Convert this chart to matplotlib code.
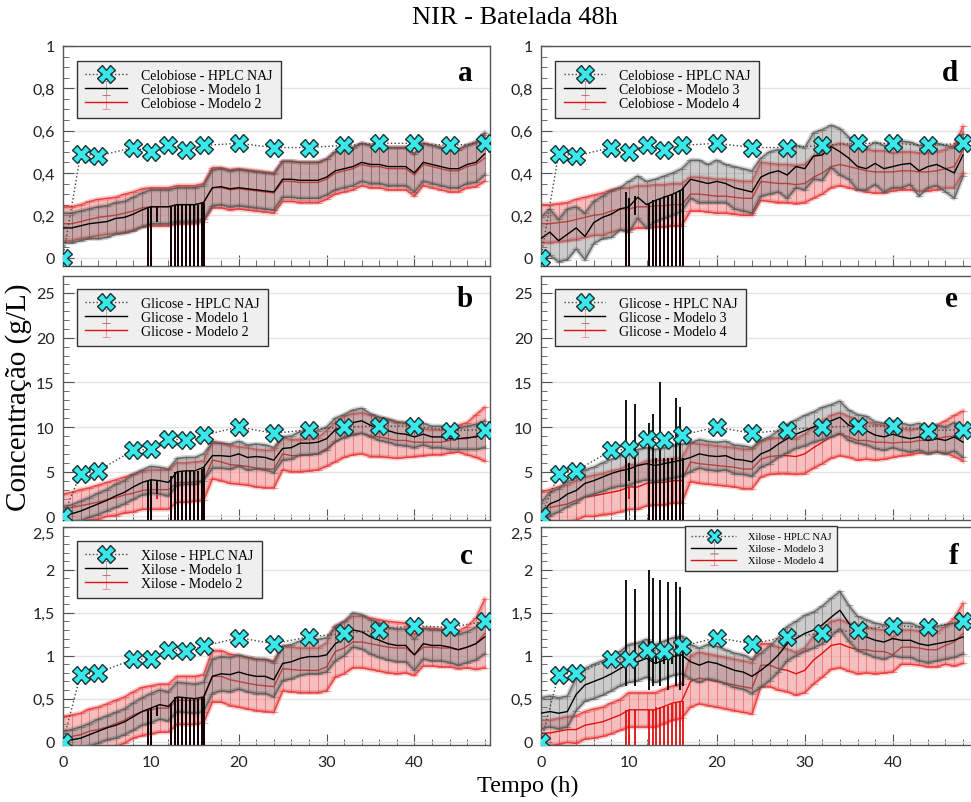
import numpy as np
import matplotlib
matplotlib.use("Agg")
import matplotlib.pyplot as plt
from matplotlib.ticker import MultipleLocator, FuncFormatter

# NIR sampling times (h) and HPLC sampling times (h)
t_nir = np.arange(49)
hplc_t = [0, 2, 4, 8, 10, 12, 14, 16, 20, 24, 28, 32, 36, 40, 44, 48]
spk_t = [9.7, 10.0, 10.7, 12.3, 12.7, 13.1, 13.5, 14.0, 14.5, 14.9, 15.4, 15.8, 16.1]

# HPLC reference values (g/L)
cel_hplc = [0, 0.49, 0.48, 0.52, 0.50, 0.53, 0.51, 0.53, 0.54, 0.52, 0.52, 0.53, 0.54, 0.54, 0.53, 0.54]
glc_hplc = [0, 4.8, 5.1, 7.4, 7.5, 8.7, 8.5, 9.1, 10.0, 9.3, 9.7, 10.0, 10.1, 10.1, 9.6, 9.7]
xyl_hplc = [0, 0.78, 0.80, 0.96, 0.96, 1.07, 1.05, 1.11, 1.21, 1.14, 1.22, 1.26, 1.30, 1.35, 1.33, 1.40]

# Celobiose - modelos 1 e 2
a1 = [0.14, 0.14, 0.15, 0.16, 0.165, 0.17, 0.185, 0.19, 0.205, 0.225,
      0.24, 0.24, 0.24, 0.25, 0.25, 0.25, 0.26, 0.33, 0.335, 0.325,
      0.33, 0.325, 0.32, 0.315, 0.31, 0.37, 0.37, 0.365, 0.365, 0.365,
      0.38, 0.41, 0.42, 0.43, 0.45, 0.44, 0.44, 0.43, 0.43, 0.43,
      0.40, 0.45, 0.44, 0.43, 0.42, 0.42, 0.44, 0.45, 0.49]
a2 = [0.16, 0.16, 0.17, 0.18, 0.19, 0.195, 0.20, 0.21, 0.22, 0.235,
      0.24, 0.24, 0.24, 0.25, 0.25, 0.25, 0.26, 0.33, 0.33, 0.32,
      0.325, 0.32, 0.315, 0.31, 0.305, 0.36, 0.36, 0.355, 0.355, 0.355,
      0.37, 0.40, 0.41, 0.42, 0.44, 0.43, 0.43, 0.42, 0.42, 0.42,
      0.39, 0.44, 0.43, 0.42, 0.41, 0.41, 0.43, 0.44, 0.47]
a1_err = [0.07, 0.07, 0.07, 0.07, 0.075, 0.075, 0.075, 0.075, 0.08, 0.08,
          0.08, 0.08, 0.08, 0.08, 0.08, 0.08, 0.08, 0.085, 0.085, 0.085,
          0.085, 0.085, 0.085, 0.085, 0.085, 0.085, 0.085, 0.085, 0.085, 0.085,
          0.085, 0.09, 0.09, 0.09, 0.09, 0.09, 0.09, 0.09, 0.09, 0.09,
          0.09, 0.09, 0.09, 0.09, 0.09, 0.09, 0.09, 0.095, 0.1]
a2_err = [0.08, 0.08, 0.08, 0.085, 0.085, 0.085, 0.085, 0.09, 0.09, 0.09,
          0.09, 0.09, 0.09, 0.09, 0.09, 0.09, 0.09, 0.095, 0.095, 0.095,
          0.095, 0.095, 0.095, 0.095, 0.095, 0.095, 0.095, 0.095, 0.095, 0.095,
          0.095, 0.1, 0.1, 0.1, 0.1, 0.1, 0.1, 0.1, 0.1, 0.1,
          0.1, 0.1, 0.1, 0.1, 0.1, 0.1, 0.1, 0.105, 0.11]
a1_spk_lo = [-0.1, -0.1, 0.17, -0.1, -0.1, -0.1, -0.1, -0.1, -0.1, -0.1, -0.1, -0.1, -0.1]
a1_spk_hi = [0.24, 0.24, 0.24, 0.24, 0.25, 0.25, 0.25, 0.25, 0.25, 0.25, 0.25, 0.26, 0.26]
a2_spk_lo = [-0.1, -0.1, 0.2, -0.1, -0.1, -0.1, -0.1, -0.1, -0.1, -0.1, -0.1, -0.1, -0.1]
a2_spk_hi = [0.24, 0.24, 0.24, 0.24, 0.25, 0.25, 0.25, 0.25, 0.25, 0.25, 0.25, 0.26, 0.26]

# Glicose - modelos 1 e 2
b1 = [0.1, 0.3, 0.6, 1.0, 1.4, 1.8, 2.3, 2.7, 3.3, 3.8,
      4.1, 4.0, 3.8, 5.0, 5.1, 5.1, 5.5, 6.8, 6.8, 6.7,
      7.0, 6.6, 6.7, 6.6, 6.3, 7.6, 7.7, 8.2, 8.2, 8.3,
      8.7, 9.7, 10.1, 10.5, 10.7, 10.2, 9.8, 9.6, 9.3, 9.2,
      8.9, 9.2, 8.9, 8.9, 8.7, 8.7, 8.8, 8.9, 9.2]
b2 = [0.8, 1.0, 1.2, 1.4, 1.6, 1.9, 2.1, 2.4, 2.6, 2.9,
      3.0, 3.0, 3.0, 3.8, 3.8, 3.9, 4.0, 6.3, 6.1, 5.8,
      5.7, 5.6, 5.4, 5.3, 5.3, 7.0, 6.8, 6.8, 6.9, 7.0,
      7.6, 8.3, 8.9, 9.2, 9.3, 9.0, 8.9, 8.7, 8.5, 8.5,
      8.3, 8.3, 8.3, 8.3, 8.5, 8.7, 8.7, 9.0, 9.2]
b1_err = [1.0, 1.0, 1.1, 1.1, 1.2, 1.2, 1.3, 1.3, 1.4, 1.4,
          1.5, 1.5, 1.5, 1.5, 1.5, 1.5, 1.5, 1.4, 1.4, 1.4,
          1.4, 1.4, 1.4, 1.4, 1.4, 1.3, 1.3, 1.3, 1.3, 1.3,
          1.3, 1.3, 1.3, 1.4, 1.4, 1.3, 1.3, 1.3, 1.3, 1.3,
          1.2, 1.2, 1.2, 1.2, 1.2, 1.2, 1.3, 1.4, 1.5]
b2_err = [1.7, 1.7, 1.8, 1.8, 1.9, 1.9, 2.0, 2.0, 2.1, 2.1,
          2.2, 2.2, 2.2, 2.2, 2.2, 2.2, 2.2, 2.1, 2.1, 2.1,
          2.1, 2.1, 2.1, 2.1, 2.1, 1.8, 1.8, 1.8, 1.8, 1.8,
          2.0, 2.2, 2.3, 2.3, 2.3, 2.3, 2.2, 2.1, 2.0, 1.9,
          1.6, 1.5, 1.4, 1.4, 1.4, 1.5, 1.8, 2.4, 3.0]
b1_spk_lo = [-1, -1, 2.5, -1, -1, -1, -1, -1, -1, -1, -1, -1, -1]
b1_spk_hi = [4.0, 4.1, 4.0, 4.5, 5.0, 5.0, 5.0, 5.1, 5.1, 5.1, 5.1, 5.3, 5.5]
b2_spk_lo = [-1, -1, 2.0, -1, -1, -1, -1, -1, -1, -1, -1, -1, -1]
b2_spk_hi = [3.0, 3.0, 3.0, 3.5, 3.8, 3.8, 3.8, 3.8, 3.8, 3.9, 3.9, 4.0, 4.0]

# Xilose - modelos 1 e 2
c1 = [0.0, 0.02, 0.04, 0.08, 0.12, 0.16, 0.19, 0.23, 0.29, 0.35,
      0.39, 0.43, 0.41, 0.52, 0.51, 0.50, 0.52, 0.76, 0.79, 0.78,
      0.81, 0.78, 0.76, 0.76, 0.72, 0.91, 0.93, 0.97, 0.99, 0.99,
      1.01, 1.14, 1.20, 1.30, 1.28, 1.22, 1.18, 1.14, 1.12, 1.12,
      1.01, 1.14, 1.12, 1.12, 1.10, 1.07, 1.10, 1.14, 1.22]
c2 = [0.04, 0.06, 0.08, 0.12, 0.14, 0.17, 0.21, 0.25, 0.31, 0.35,
      0.37, 0.39, 0.39, 0.48, 0.48, 0.48, 0.50, 0.76, 0.76, 0.72,
      0.70, 0.68, 0.66, 0.65, 0.64, 0.85, 0.84, 0.83, 0.83, 0.83,
      0.87, 1.05, 1.09, 1.16, 1.16, 1.14, 1.12, 1.10, 1.09, 1.09,
      1.01, 1.10, 1.10, 1.09, 1.09, 1.07, 1.10, 1.14, 1.26]
c1_err = [0.12, 0.12, 0.13, 0.13, 0.14, 0.14, 0.15, 0.15, 0.16, 0.16,
          0.17, 0.17, 0.17, 0.17, 0.17, 0.17, 0.17, 0.2, 0.2, 0.2,
          0.2, 0.2, 0.2, 0.2, 0.2, 0.2, 0.2, 0.2, 0.2, 0.2,
          0.2, 0.2, 0.2, 0.2, 0.2, 0.2, 0.2, 0.19, 0.19, 0.19,
          0.18, 0.18, 0.18, 0.18, 0.18, 0.18, 0.18, 0.19, 0.2]
c2_err = [0.25, 0.25, 0.25, 0.26, 0.26, 0.27, 0.27, 0.27, 0.27, 0.28,
          0.28, 0.28, 0.28, 0.28, 0.28, 0.28, 0.28, 0.3, 0.3, 0.3,
          0.3, 0.3, 0.3, 0.3, 0.3, 0.26, 0.26, 0.26, 0.26, 0.26,
          0.28, 0.3, 0.3, 0.3, 0.3, 0.3, 0.3, 0.3, 0.3, 0.29,
          0.24, 0.22, 0.22, 0.22, 0.22, 0.22, 0.24, 0.3, 0.4]
c1_spk_lo = [-0.1, -0.1, 0.3, -0.1, -0.1, -0.1, -0.1, -0.1, -0.1, -0.1, -0.1, -0.1, -0.1]
c1_spk_hi = [0.37, 0.39, 0.43, 0.45, 0.52, 0.51, 0.51, 0.51, 0.50, 0.50, 0.50, 0.52, 0.52]
c2_spk_lo = [-0.1, -0.1, 0.3, -0.1, -0.1, -0.1, -0.1, -0.1, -0.1, -0.1, -0.1, -0.1, -0.1]
c2_spk_hi = [0.36, 0.37, 0.39, 0.42, 0.48, 0.48, 0.48, 0.48, 0.48, 0.48, 0.48, 0.50, 0.50]

# Celobiose - modelos 3 e 4
d3 = [0.09, 0.12, 0.08, 0.11, 0.14, 0.10, 0.165, 0.19, 0.205, 0.23,
      0.24, 0.285, 0.25, 0.27, 0.285, 0.30, 0.32, 0.37, 0.36, 0.35,
      0.36, 0.35, 0.33, 0.32, 0.31, 0.38, 0.40, 0.41, 0.39, 0.43,
      0.42, 0.48, 0.485, 0.525, 0.50, 0.47, 0.43, 0.42, 0.445, 0.42,
      0.43, 0.44, 0.445, 0.41, 0.43, 0.44, 0.42, 0.40, 0.485]
d4 = [0.16, 0.16, 0.165, 0.17, 0.18, 0.19, 0.20, 0.205, 0.22, 0.23,
      0.23, 0.24, 0.24, 0.245, 0.245, 0.25, 0.25, 0.30, 0.30, 0.295,
      0.29, 0.29, 0.285, 0.28, 0.28, 0.36, 0.355, 0.35, 0.35, 0.345,
      0.35, 0.38, 0.40, 0.43, 0.44, 0.43, 0.42, 0.41, 0.405, 0.405,
      0.405, 0.41, 0.41, 0.405, 0.405, 0.41, 0.42, 0.43, 0.51]
d3_err = [0.1, 0.11, 0.1, 0.12, 0.1, 0.11, 0.1, 0.1, 0.11, 0.1,
          0.12, 0.1, 0.11, 0.1, 0.1, 0.1, 0.1, 0.09, 0.1, 0.09,
          0.1, 0.09, 0.1, 0.1, 0.1, 0.09, 0.1, 0.1, 0.11, 0.1,
          0.1, 0.11, 0.12, 0.1, 0.11, 0.1, 0.11, 0.1, 0.1, 0.11,
          0.1, 0.11, 0.1, 0.12, 0.1, 0.1, 0.11, 0.12, 0.1]
d4_err = [0.09, 0.09, 0.09, 0.09, 0.095, 0.095, 0.095, 0.1, 0.1, 0.1,
          0.1, 0.1, 0.1, 0.1, 0.1, 0.1, 0.1, 0.08, 0.08, 0.08,
          0.08, 0.08, 0.08, 0.08, 0.08, 0.09, 0.09, 0.09, 0.09, 0.09,
          0.09, 0.1, 0.1, 0.1, 0.1, 0.1, 0.1, 0.1, 0.1, 0.1,
          0.09, 0.09, 0.09, 0.09, 0.09, 0.09, 0.09, 0.1, 0.11]
d3_spk_lo = [-0.1, -0.1, 0.2, -0.1, -0.1, -0.1, -0.1, -0.1, -0.1, -0.1, -0.1, -0.1, -0.1]
d3_spk_hi = [0.31, 0.28, 0.29, 0.26, 0.27, 0.27, 0.28, 0.29, 0.29, 0.30, 0.31, 0.32, 0.33]
d4_spk_lo = [-0.1, -0.1, 0.2, -0.1, -0.1, -0.1, -0.1, -0.1, -0.1, -0.1, -0.1, -0.1, -0.1]
d4_spk_hi = [0.23, 0.23, 0.24, 0.24, 0.245, 0.245, 0.245, 0.245, 0.25, 0.25, 0.25, 0.25, 0.25]

# Glicose - modelos 3 e 4
e3 = [0.3, 1.4, 1.8, 2.5, 2.9, 3.7, 4.0, 4.4, 4.8, 5.1,
      5.3, 5.7, 5.9, 5.7, 5.9, 6.1, 6.3, 6.6, 7.0, 6.8,
      6.7, 6.8, 6.4, 6.3, 6.1, 7.0, 7.4, 8.1, 8.7, 9.2,
      9.6, 10.0, 10.4, 10.7, 11.1, 10.2, 9.8, 9.6, 9.1, 8.9,
      9.2, 8.9, 8.7, 8.9, 8.5, 8.7, 8.5, 8.9, 8.3]
e4 = [0.7, 1.0, 1.2, 1.4, 1.8, 2.2, 2.3, 2.5, 2.7, 2.9,
      3.3, 3.3, 3.7, 3.8, 3.8, 4.0, 4.0, 6.1, 5.9, 5.8,
      5.7, 5.6, 5.5, 5.3, 5.3, 6.4, 6.7, 6.8, 6.8, 6.7,
      7.0, 7.7, 8.3, 8.9, 9.2, 8.9, 8.5, 8.5, 8.3, 8.3,
      8.2, 8.3, 8.3, 8.5, 8.5, 8.7, 8.9, 9.0, 9.0]
e3_err = [1.2, 1.3, 1.3, 1.4, 1.4, 1.5, 1.5, 1.6, 1.6, 1.7,
          1.8, 1.8, 1.8, 1.8, 1.8, 1.8, 1.8, 1.6, 1.6, 1.6,
          1.6, 1.6, 1.6, 1.6, 1.6, 1.5, 1.5, 1.5, 1.6, 1.6,
          1.7, 1.7, 1.8, 1.8, 1.8, 1.7, 1.6, 1.6, 1.5, 1.5,
          1.5, 1.5, 1.5, 1.5, 1.5, 1.5, 1.5, 1.6, 1.7]
e4_err = [2.0, 2.0, 2.1, 2.1, 2.2, 2.2, 2.3, 2.3, 2.4, 2.4,
          2.5, 2.5, 2.5, 2.5, 2.5, 2.5, 2.5, 2.2, 2.2, 2.2,
          2.2, 2.2, 2.2, 2.2, 2.2, 2.0, 2.0, 2.0, 2.0, 2.0,
          2.2, 2.3, 2.4, 2.4, 2.4, 2.3, 2.2, 2.1, 2.0, 1.9,
          1.6, 1.5, 1.4, 1.4, 1.4, 1.5, 1.8, 2.3, 2.8]
e3_spk_lo = [-1, 4.0, -1, -1, -1, -1, -1, -1, -1, -1, -1, -1, -1]
e3_spk_hi = [13.0, 6.0, 12.6, 10.5, 11.5, 6.5, 15.0, 6.5, 6.5, 6.5, 13.3, 12.2, 6.5]
e4_spk_lo = [2.0, 2.0, 2.0, -1, -1, -1, -1, -1, -1, -1, -1, -1, -1]
e4_spk_hi = [3.0, 3.3, 3.5, 3.6, 3.7, 3.8, 3.8, 3.8, 3.9, 3.9, 4.0, 4.0, 4.0]

# Xilose - modelos 3 e 4
f3 = [0.33, 0.35, 0.33, 0.35, 0.55, 0.66, 0.70, 0.74, 0.79, 0.85,
      0.91, 0.93, 0.97, 0.91, 0.95, 0.99, 1.01, 0.93, 0.89, 0.93,
      0.91, 0.87, 0.83, 0.81, 0.76, 0.83, 0.91, 1.01, 1.14, 1.20,
      1.26, 1.30, 1.36, 1.45, 1.53, 1.38, 1.26, 1.22, 1.18, 1.16,
      1.20, 1.18, 1.18, 1.14, 1.12, 1.14, 1.16, 1.18, 1.22]
f4 = [0.10, 0.10, 0.12, 0.14, 0.14, 0.19, 0.21, 0.23, 0.27, 0.31,
      0.37, 0.37, 0.37, 0.37, 0.41, 0.45, 0.47, 0.70, 0.74, 0.72,
      0.70, 0.68, 0.66, 0.64, 0.62, 0.89, 0.89, 0.85, 0.83, 0.79,
      0.83, 0.95, 1.03, 1.12, 1.14, 1.10, 1.07, 1.07, 1.05, 1.05,
      1.01, 1.10, 1.10, 1.09, 1.07, 1.07, 1.12, 1.16, 1.26]
f3_err = [0.18, 0.18, 0.18, 0.18, 0.19, 0.19, 0.2, 0.2, 0.2, 0.2,
          0.22, 0.22, 0.22, 0.22, 0.22, 0.22, 0.22, 0.2, 0.2, 0.2,
          0.2, 0.2, 0.2, 0.2, 0.2, 0.2, 0.2, 0.2, 0.2, 0.2,
          0.21, 0.21, 0.22, 0.22, 0.22, 0.21, 0.2, 0.2, 0.2, 0.2,
          0.2, 0.2, 0.2, 0.2, 0.2, 0.2, 0.2, 0.2, 0.2]
f4_err = [0.15, 0.15, 0.15, 0.15, 0.16, 0.16, 0.17, 0.17, 0.18, 0.18,
          0.2, 0.2, 0.2, 0.2, 0.2, 0.2, 0.2, 0.3, 0.3, 0.3,
          0.3, 0.3, 0.3, 0.3, 0.3, 0.25, 0.25, 0.25, 0.25, 0.25,
          0.26, 0.28, 0.28, 0.28, 0.28, 0.28, 0.28, 0.27, 0.26, 0.25,
          0.2, 0.2, 0.2, 0.2, 0.2, 0.2, 0.22, 0.28, 0.35]
f3_spk_lo = [0.65, 0.9, 0.65, 0.6, 0.65, 0.9, 0.65, 0.9, 0.6, 0.9, 0.65, 0.6, 0.65]
f3_spk_hi = [1.88, 0.95, 1.78, 2.0, 1.9, 1.0, 1.88, 1.0, 1.86, 1.0, 1.86, 1.8, 1.1]
f4_spk_lo = [-0.1, -0.1, -0.1, -0.1, -0.1, -0.1, -0.1, -0.1, -0.1, -0.1, -0.1, -0.1, -0.1]
f4_spk_hi = [0.37, 0.37, 0.37, 0.37, 0.37, 0.4, 0.4, 0.41, 0.42, 0.44, 0.45, 0.46, 0.47]

SERIF = "Liberation Serif"
SANS = "Lato"

fig = plt.figure(figsize=(9.71, 8.03), dpi=100)

W, H = 971, 803
rows = [(47, 267), (277, 521), (528, 746)]   # px top/bottom
cols = [(63, 490, 48.6), (541, 978, 49.7)]   # px left/right, xmax

panels = [
    dict(col=0, row=0, letter="a", hplc=cel_hplc, name="Celobiose", ma="Modelo 1", mb="Modelo 2",
         ya=a1, ea=a1_err, yb=a2, eb=a2_err, sa=(a1_spk_lo, a1_spk_hi), sb=(a2_spk_lo, a2_spk_hi)),
    dict(col=0, row=1, letter="b", hplc=glc_hplc, name="Glicose", ma="Modelo 1", mb="Modelo 2",
         ya=b1, ea=b1_err, yb=b2, eb=b2_err, sa=(b1_spk_lo, b1_spk_hi), sb=(b2_spk_lo, b2_spk_hi)),
    dict(col=0, row=2, letter="c", hplc=xyl_hplc, name="Xilose", ma="Modelo 1", mb="Modelo 2",
         ya=c1, ea=c1_err, yb=c2, eb=c2_err, sa=(c1_spk_lo, c1_spk_hi), sb=(c2_spk_lo, c2_spk_hi)),
    dict(col=1, row=0, letter="d", hplc=cel_hplc, name="Celobiose", ma="Modelo 3", mb="Modelo 4",
         ya=d3, ea=d3_err, yb=d4, eb=d4_err, sa=(d3_spk_lo, d3_spk_hi), sb=(d4_spk_lo, d4_spk_hi)),
    dict(col=1, row=1, letter="e", hplc=glc_hplc, name="Glicose", ma="Modelo 3", mb="Modelo 4",
         ya=e3, ea=e3_err, yb=e4, eb=e4_err, sa=(e3_spk_lo, e3_spk_hi), sb=(e4_spk_lo, e4_spk_hi)),
    dict(col=1, row=2, letter="f", hplc=xyl_hplc, name="Xilose", ma="Modelo 3", mb="Modelo 4",
         ya=f3, ea=f3_err, yb=f4, eb=f4_err, sa=(f3_spk_lo, f3_spk_hi), sb=(f4_spk_lo, f4_spk_hi)),
]

ylims = [(-0.04, 1.0), (-0.4, 26.9), (-0.04, 2.5)]
ymaj = [0.2, 5, 0.5]
ymin = [0.05, 1, 0.1]
letter_y = [0.88, 0.906, 0.87]
leg_top = [0.932, 0.947, 0.936]

comma = FuncFormatter(lambda v, p: f"{v:g}".replace(".", ","))


def draw_model(ax, y, err, spk, line_c, bar_c, fill_c, fill_a, label, z):
    y = np.asarray(y)
    err = np.asarray(err)
    ax.fill_between(t_nir, y - err, y + err, color=fill_c, alpha=fill_a, lw=0, zorder=z)
    for s in (1, -1):
        ax.plot(t_nir, y + s * err, color=bar_c, lw=3.5, alpha=0.25, zorder=z + 0.1)
        ax.plot(t_nir, y + s * err, color=bar_c, lw=1.1, alpha=0.8, zorder=z + 0.1)
    ax.vlines(spk_t, spk[0], spk[1], color=line_c, lw=1.3, zorder=z + 0.3)
    h = ax.errorbar(t_nir, y, yerr=err, fmt="-", color=line_c, lw=1.0,
                    ecolor=matplotlib.colors.to_rgba(bar_c, 0.45), elinewidth=0.7,
                    capsize=3, capthick=0.7, label=label, zorder=z + 0.2)
    return h


axes_c = []
for p in panels:
    (px0, px1, xmax) = cols[p["col"]]
    (py0, py1) = rows[p["row"]]
    ax = fig.add_axes([px0 / W, 1 - py1 / H, (px1 - px0) / W, (py1 - py0) / H])
    r = p["row"]
    if r == 2:
        axes_c.append(ax)

    hb = draw_model(ax, p["yb"], p["eb"], p["sb"], "#e01010", "#e83030", "#f09090", 0.58,
                    f"{p['name']} - {p['mb']}", 2)
    ha = draw_model(ax, p["ya"], p["ea"], p["sa"], "#000000", "#555555", "#858585", 0.42,
                    f"{p['name']} - {p['ma']}", 3)
    hh, = ax.plot(hplc_t, p["hplc"], ls=":", color="#444444", lw=1.0, marker="X", ms=12.5,
                  mfc="#38e8ea", mec="#1a3535", mew=1.0, zorder=6,
                  label=f"{p['name']} - HPLC NAJ")

    ax.set_xlim(0, xmax)
    ax.set_ylim(*ylims[r])
    ax.xaxis.set_major_locator(MultipleLocator(10))
    ax.xaxis.set_minor_locator(MultipleLocator(2))
    ax.yaxis.set_major_locator(MultipleLocator(ymaj[r]))
    ax.yaxis.set_minor_locator(MultipleLocator(ymin[r]))
    ax.yaxis.set_major_formatter(comma)
    ax.yaxis.grid(True, color="#e4e4e4", lw=1)
    ax.set_axisbelow(True)
    ax.tick_params(which="both", direction="in", top=False, right=False, color="#555555",
                   labelsize=11.5, labelcolor="#222222")
    ax.tick_params(axis="y", pad=6)
    ax.tick_params(axis="x", pad=7)
    ax.tick_params(which="major", length=8)
    ax.tick_params(which="minor", length=4)
    for lab in ax.get_xticklabels() + ax.get_yticklabels():
        lab.set_family(SANS)
    if r < 2:
        ax.tick_params(labelbottom=False)
    for sp in ax.spines.values():
        sp.set_color("#555555")
        sp.set_linewidth(1.0)

    lx = 0.96 if p["col"] == 0 else 0.955
    ax.text(lx, letter_y[r], p["letter"], transform=ax.transAxes, ha="right", va="center",
            fontsize=21, fontweight="bold", family=SERIF, zorder=10)

    if p["letter"] == "f":
        leg = ax.legend(handles=[hh, ha, hb], loc="upper left", bbox_to_anchor=(0.33, 1.005),
                        borderaxespad=0, prop=dict(family=SERIF, size=7.5), handlelength=4.3,
                        labelspacing=0.25, markerscale=0.75, borderpad=0.6, handletextpad=1.1)
    else:
        leg = ax.legend(handles=[hh, ha, hb], loc="upper left",
                        bbox_to_anchor=(0.033, leg_top[r]),
                        borderaxespad=0, prop=dict(family=SERIF, size=10), handlelength=3.0,
                        labelspacing=0.05, markerscale=1.0, borderpad=0.6, handletextpad=1.0)
    fr = leg.get_frame()
    fr.set_facecolor("#efefef")
    fr.set_edgecolor("#333333")
    fr.set_alpha(1)
    fr.set_boxstyle("square", pad=0)
    leg.set_zorder(8)

fig.text(0.53, 0.978, "NIR - Batelada 48h", ha="center", va="center", fontsize=19, family=SERIF)
fig.text(0.019, 0.505, "Concentração (g/L)", ha="center", va="center", rotation=90,
         fontsize=21, family=SERIF)
fig.text(0.543, 0.021, "Tempo (h)", ha="center", va="center", fontsize=17.5, family=SERIF)

# the top tick label of the bottom row sits inside the frame, as in the reference
fig.canvas.draw()
for ax in axes_c:
    for tk in ax.yaxis.get_major_ticks():
        if abs(tk.get_loc() - 2.5) < 1e-6:
            tk.label1.set_verticalalignment("top")

fig.savefig("out.png", dpi=100)
